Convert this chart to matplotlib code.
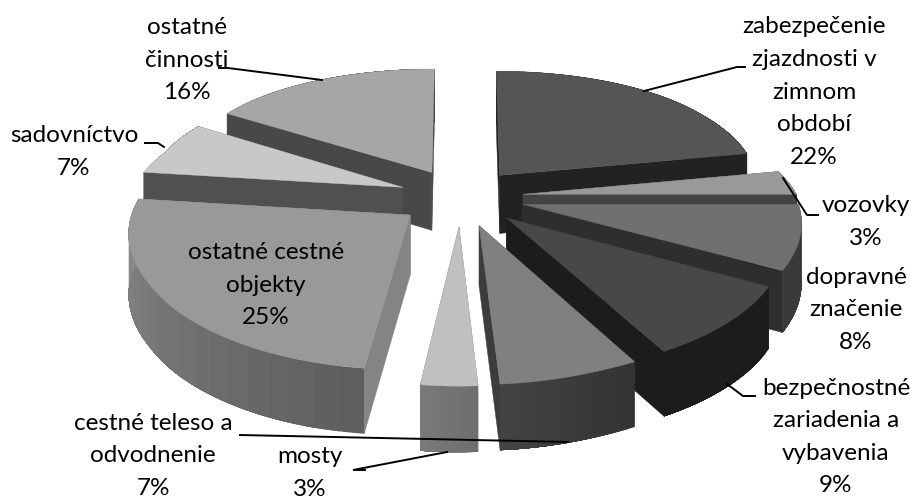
import numpy as np
import matplotlib
matplotlib.use('Agg')
import matplotlib.pyplot as plt
from matplotlib.colors import to_rgb
from matplotlib.patches import Polygon

plt.rcParams['font.family'] = ['Lato', 'DejaVu Sans']

labels = ['zabezpečenie\nzjazdnosti v\nzimnom\nobdobí', 'vozovky', 'dopravné\nznačenie',
          'bezpečnostné\nzariadenia a\nvybavenia', 'cestné teleso a\nodvodnenie', 'mosty',
          'ostatné cestné\nobjekty', 'sadovníctvo', 'ostatné\nčinnosti']
values = [22, 3, 8, 9, 7, 3, 25, 7, 16]
top_colors = ['#555555', '#999999', '#707070', '#484848', '#808080', '#c0c0c0', '#999999', '#c8c8c8', '#a6a6a6']
cut_colors = ['#222222', '#444444', '#2e2e2e', '#1c1c1c', '#3c3c3c', '#6f6f6f', '#848484', '#505050', '#484848']
rim_start = ['#222222', '#444444', '#3a3a3a', '#1c1c1c', '#333333', '#6e6e6e', '#5e5e5e', '#505050', '#484848']
rim_end = ['#222222', '#444444', '#3a3a3a', '#1c1c1c', '#444444', '#7a7a7a', '#8c8c8c', '#505050', '#484848']
label_pos = [(814, 92), (866, 222), (856, 310), (836, 437), (153, 456), (310, 473), (266, 285), (74, 152), (187, 60)]
leaders = [[(745, 67), (737, 67), (644, 91)],
           [(818, 215), (807, 215), (783, 178)],
           [],
           [(755, 396), (743, 396), (727, 384)],
           [(240, 435), (568, 442)],
           [(365, 470), (353, 470), (447, 452)],
           [],
           [(145, 143), (158, 143), (164, 147)],
           [(219, 68), (228, 68), (322, 80)]]

cx, cy = 461, 197
ry = 125.6
ky, kx = 0.149, 0.088
depth = 59
explode = 0.23
# horizontal scale of the pie against depth
scale_v = [-1.25, -1.1, -0.64, -0.35, 0.0, 0.37, 0.73, 1.2]
scale_x = [305, 318, 296, 286, 274, 253, 245, 240]


def project(u, v):
    return cx + u * np.interp(v, scale_v, scale_x), cy - v * ry / (1 + ky * v)


def drop(u, v):
    return depth / (1 + kx * v)


fig = plt.figure(figsize=(9.14, 5.01), dpi=100)
ax = fig.add_axes([0, 0, 1, 1])
ax.set_xlim(0, 914)
ax.set_ylim(501, 0)
ax.axis('off')

edges = np.radians(np.cumsum([0] + values) * 3.6)
wedges = []
for i in range(len(values)):
    mid = (edges[i] + edges[i + 1]) / 2
    eu, ev = explode * np.sin(mid), explode * np.cos(mid)
    wedges.append((ev + 0.5 * np.cos(mid), i, eu, ev))

# far slices first so the near ones cover them
for _, i, eu, ev in sorted(wedges, reverse=True):
    t = np.linspace(edges[i], edges[i + 1], 61)
    u = eu + np.sin(t)
    v = ev + np.cos(t)
    x, y = project(u, v)
    ax0, ay0 = project(np.array([eu]), np.array([ev]))
    h = drop(u, v)
    h0 = drop(eu, ev)
    apex_top = (ax0[0], ay0[0])
    apex_bot = (ax0[0], ay0[0] + h0)

    ends = [0, -1]
    ends.sort(key=lambda k: -v[k])
    for k in ends:
        ax.add_patch(Polygon([apex_top, (x[k], y[k]), (x[k], y[k] + h[k]), apex_bot],
                             closed=True, fc=cut_colors[i], ec=cut_colors[i], lw=0.3))
    # rim gradient: each strip runs to the end of the arc, so no seams show
    c0, c1 = np.array(to_rgb(rim_start[i])), np.array(to_rgb(rim_end[i]))
    for k in range(0, 60, 3):
        col = c0 + (c1 - c0) * k / 59
        rim = list(zip(x[k:], y[k:])) + list(zip(x[k:][::-1], (y + h)[k:][::-1]))
        ax.add_patch(Polygon(rim, closed=True, fc=col, ec='none', lw=0))
    ax.add_patch(Polygon([apex_top] + list(zip(x, y)), closed=True,
                         fc=top_colors[i], ec=top_colors[i], lw=0.3))

for line in leaders:
    if line:
        ax.plot([p[0] for p in line], [p[1] for p in line], color='black', lw=1.4,
                solid_joinstyle='miter')

for name, val, pos in zip(labels, values, label_pos):
    ax.text(pos[0], pos[1], f'{name}\n{val}%', ha='center', va='center', fontsize=17.5,
            color='black', linespacing=1.68, clip_on=False)

fig.savefig('out.png', dpi=100)
